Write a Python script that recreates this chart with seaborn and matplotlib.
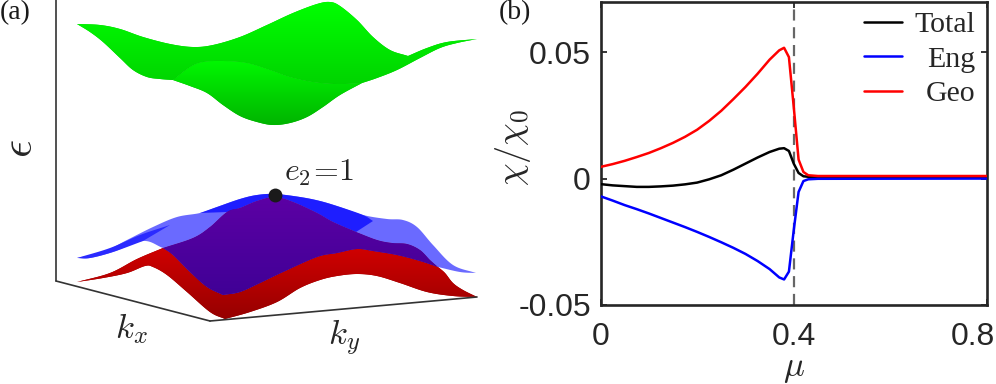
import numpy as np
import pandas as pd
import matplotlib
matplotlib.use("Agg")
import matplotlib.pyplot as plt
from matplotlib.patches import Polygon
from matplotlib.colors import LinearSegmentedColormap
from matplotlib.transforms import ScaledTranslation
import seaborn as sns

sns.set_theme(style="white")
plt.rcParams['mathtext.fontset'] = 'cm'
INK = '#262626'

# panel (b) curves
mu = [0, .025, .05, .075, .1, .125, .15, .175, .2, .225, .25, .275, .3, .325, .35, .37, .38, .39, .40, .41, .42, .43, .45, .8]
geo = [.0046, .0057, .0070, .0085, .0101, .0120, .0141, .0165, .0193, .0228, .0268, .0314, .0362, .0414, .0470, .0507, .0517, .0480, .0283, .0075, .0026, .0013, .0010, .0010]
eng = [-.0070, -.0087, -.0105, -.0121, -.0138, -.0156, -.0174, -.0192, -.0211, -.0231, -.0252, -.0274, -.0298, -.0326, -.0358, -.0391, -.0399, -.0368, -.0204, -.0053, -.0010, -.0003, -.0001, 0]
total = [-.0022, -.0027, -.0030, -.0033, -.0033, -.0031, -.0028, -.0023, -.0016, -.0003, .0013, .0035, .0059, .0083, .0105, .0118, .0120, .0109, .0059, .0022, .0009, .0007, .0007, .0007]
series_names = ['Total', 'Eng', 'Geo']
series_colors = ['#000000', '#0000ff', '#ff0000']
x_ticks = [0, .4, .8]
x_ticklabels = ['0', '0.4', '0.8']
y_ticks = [-.05, 0, .05]
y_ticklabels = ['-0.05', '0', '0.05']

# panel (a) schematic surface edges
g_top = [(77,24),(100,25),(120,29),(143,37),(170,44),(193,47),(213,45),(240,37),(267,25),(293,13),(317,4),(330,2),(340,6),(357,20),(373,37),(390,50),(408,56)]
g_wing_top = [(408,56),(427,48),(447,42),(477,39)]
g_low_right = [(477,39),(457,43),(440,48),(420,58),(397,70),(377,78),(362,83)]
g_bottom = [(362,83),(340,95),(323,107),(307,117),(290,123),(273,125),(257,122),(240,116),(223,105),(207,93),(190,86),(173,80)]
g_low_left = [(173,80),(160,79),(147,77),(133,70),(120,58),(103,42),(90,32),(77,24)]
g_fold = [(173,80),(190,67),(203,62),(223,61),(247,63),(270,70),(290,77),(313,82),(337,84),(362,83)]

b_top = [(77,258),(103,252),(127,240),(153,227),(177,217),(200,213),(217,207),(240,199),(257,195),(275,194),(300,197),(320,201),(340,207),(363,215),(387,219),(403,220),(417,227),(433,245),(453,265),(476,273)]
b_end = [(476,273),(460,272),(438,267)]
b_low_left = [(163,248),(143,241),(113,252),(90,258),(77,258)]
b_fold_left = [(77,258),(110,248),(140,235),(170,225)]
b_fold_back = [(170,225),(143,241)]
b_low_tip = [(143,241),(113,252),(90,258),(77,258)]
b_strip_top = [(200,213),(217,207),(240,199),(257,195),(275,194),(300,197),(320,201),(340,207),(363,215),(373,221)]

p_top = [(163,248),(193,238),(210,227),(227,212),(240,208),(257,201),(275,197),(293,202),(317,213),(333,222),(356,232)]
p_right = [(356,232),(377,240),(392,243),(407,244),(420,250),(430,260),(438,267)]
r_top_right = [(438,267),(420,261),(397,255),(373,251),(357,249),(337,253),(317,257),(283,272),(260,283),(240,292),(223,295)]
p_left = [(223,295),(207,287),(190,272),(173,255),(163,248)]

r_tip = [(77,282),(110,273),(137,259),(163,248)]
r_wing = [(438,267),(445,273),(453,283),(463,290),(477,297)]
r_bottom = [(477,297),(453,296),(427,292),(400,283),(377,276),(357,274),(337,276),(320,280),(300,288),(277,302),(250,312),(225,319)]
r_low_left = [(225,319),(210,312),(187,292),(167,275),(153,267),(145,266),(127,273),(103,278),(77,282)]

box_edges = [((56,0),(56,281)), ((56,281),(210,321)), ((210,321),(477,297))]
peak = (275,195)


def smooth(edge, n=12):
    """Render one traced edge as a Catmull-Rom curve through its points."""
    p = np.array(edge, float)
    q = np.vstack([2 * p[0] - p[1], p, 2 * p[-1] - p[-2]])
    out = []
    for i in range(1, len(q) - 2):
        t = np.linspace(0, 1, n, endpoint=False)[:, None]
        a, b, c, d = q[i - 1], q[i], q[i + 1], q[i + 2]
        out.append(.5 * (2 * b + (c - a) * t + (2 * a - 5 * b + 4 * c - d) * t**2 + (3 * b - a - 3 * c + d) * t**3))
    out.append(p[-1:])
    return np.vstack(out)


def outline(*edges):
    return np.vstack([smooth(e) for e in edges])


fig = plt.figure(figsize=(9.96, 3.84), dpi=100)
bg = fig.add_axes([0, 0, 1, 1])
bg.set_xlim(0, 996); bg.set_ylim(384, 0); bg.axis('off')


def shaded(pts, top, bottom, z):
    p = Polygon(pts, closed=True, transform=bg.transData, fc=bottom, ec='none', zorder=z)
    bg.add_patch(p)
    cmap = LinearSegmentedColormap.from_list('g', [top, bottom])
    y0, y1 = pts[:, 1].min(), pts[:, 1].max()
    im = bg.imshow(np.linspace(0, 1, 128)[:, None], cmap=cmap, aspect='auto', zorder=z,
                   extent=(pts[:, 0].min(), pts[:, 0].max(), y1, y0), interpolation='bilinear')
    im.set_clip_path(p)


def flat(pts, color, z):
    bg.add_patch(Polygon(pts, closed=True, fc=color, ec='none', zorder=z))


shaded(outline(g_top, g_wing_top, g_low_right, g_fold[::-1], g_low_left), '#00ff00', '#00d400', 2)
shaded(outline(g_fold, g_bottom), '#00f800', '#00b400', 3)
shaded(outline(r_tip, p_left[::-1], r_top_right[::-1], r_wing, r_bottom, r_low_left), '#d00000', '#960000', 2)
flat(outline(b_top, b_end, p_right[::-1], p_top[::-1], b_low_left), '#6a6aff', 3)
flat(outline(b_fold_left, b_fold_back, b_low_tip), '#2a2aff', 3)
flat(outline(b_strip_top, [(373,221),(356,232)], p_top[::-1][:8]), '#1e1eff', 3)
shaded(outline(p_top, p_right, r_top_right, p_left), '#5c00a4', '#400096', 4)
for a, b in box_edges:
    bg.plot([a[0], b[0]], [a[1], b[1]], color='#333333', lw=1.2, zorder=5, solid_capstyle='round')
bg.scatter(*peak, s=100, color='k', zorder=6, linewidths=0)
bg.set_xlim(0, 996); bg.set_ylim(384, 0)

bg.text(319, 172, r'$e_2\!=\!1$', fontsize=23, ha='center', va='center', color=INK)
bg.text(131, 329, r'$k_x$', fontsize=25, ha='center', va='center', color=INK)
bg.text(344, 338, r'$k_y$', fontsize=25, ha='center', va='center', color=INK)
bg.text(20, 149, r'$\epsilon$', fontsize=32, rotation=90, ha='center', va='center', color=INK)
bg.text(0, 13, '(a)', family='Liberation Serif', fontsize=20, ha='left', va='center', color='k')
bg.text(499, 13, '(b)', family='Liberation Serif', fontsize=20, ha='left', va='center', color='k')

# panel (b)
W, H = 996, 384
L, R, T, B = 600.5, 987, 1.5, 305
ax = fig.add_axes([L / W, 1 - B / H, (R - L) / W, (B - T) / H])
ax.patch.set_alpha(0)
ax.axvline(.4, color='#666666', lw=1.6, dashes=(5, 3), zorder=1)
for name, vals, col in zip(series_names, [total, eng, geo], series_colors):
    sns.lineplot(x=mu, y=vals, color=col, lw=1.8, ax=ax, label=name, zorder=3)
ax.set_xlim(0, .8); ax.set_ylim(-.05, .07)
ax.set_xticks(x_ticks, x_ticklabels)
ax.set_yticks(y_ticks, y_ticklabels)
ax.tick_params(direction='in', length=4, width=1.3, color=INK, labelcolor=INK, top=True, right=True,
               left=True, bottom=True, labelsize=23)
ax.tick_params(axis='x', pad=12)
ax.tick_params(axis='y', pad=7)
for lab in ax.get_xticklabels() + ax.get_yticklabels():
    lab.set_family('Liberation Sans')
last = ax.get_xticklabels()[-1]
last.set_ha('right')
last.set_transform(last.get_transform() + ScaledTranslation(.08, 0, fig.dpi_scale_trans))
for s in ax.spines.values():
    s.set_visible(True); s.set_color(INK); s.set_linewidth(1.9)
ax.set_xlabel(r'$\mu$', fontsize=25, color=INK, labelpad=0)
ax.set_ylabel(r'$\chi/\chi_0$', fontsize=26, color=INK, labelpad=0)
ax.yaxis.set_label_coords(-0.175, 0.52)
ax.xaxis.set_label_coords(0.5, -0.15)

leg = ax.legend(loc='upper right', frameon=False, handlelength=1.27, handletextpad=.4,
                labelspacing=.26, borderaxespad=0, bbox_to_anchor=(.969, .968), borderpad=0,
                prop={'family': 'Liberation Serif', 'size': 21.5})
fig.canvas.draw()
rend = fig.canvas.get_renderer()
widths = [t.get_window_extent(rend).width for t in leg.get_texts()]
for t, w in zip(leg.get_texts(), widths):
    t.set_position((max(widths) - w, 0))

fig.savefig('out.png', dpi=100)
